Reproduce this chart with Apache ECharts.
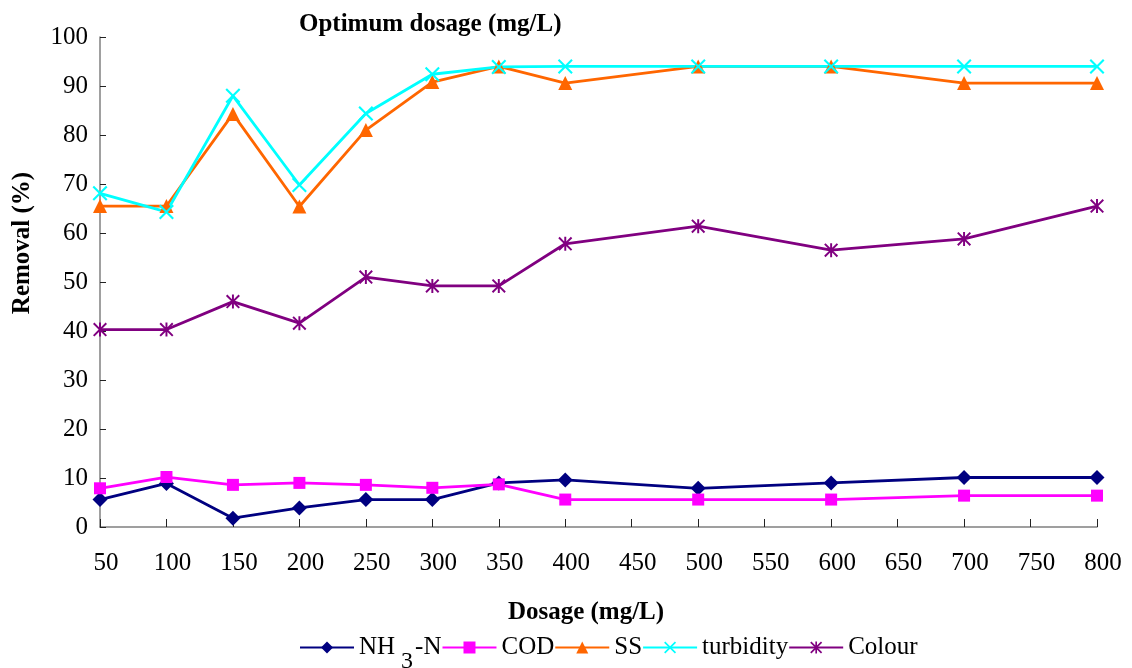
<!DOCTYPE html>
<html>
<head>
<meta charset="utf-8">
<script src="https://cdn.jsdelivr.net/npm/echarts@6/dist/echarts.min.js"></script>
<style>
html,body{margin:0;padding:0;background:#fff;}
#chart{width:1132px;height:668px;}
</style>
</head>
<body>
<div id="chart"></div>
<script>
// Dosage (mg/L)
var dosage = [50, 100, 150, 200, 250, 300, 350, 400, 500, 600, 700, 800];
// Removal (%)
var nh3n      = [5.6, 8.9, 1.8, 3.9, 5.6, 5.6, 9.0, 9.6, 7.9, 9.0, 10.1, 10.1];
var cod       = [7.9, 10.2, 8.6, 9.0, 8.6, 8.0, 8.7, 5.6, 5.6, 5.6, 6.4, 6.4];
var ss        = [65.5, 65.5, 84.3, 65.4, 81.0, 90.8, 94.0, 90.6, 94.0, 94.0, 90.6, 90.6];
var turbidity = [68.1, 64.3, 88.0, 69.8, 84.4, 92.4, 93.9, 94.0, 94.0, 94.0, 94.0, 94.0];
var colour    = [40.3, 40.3, 46.0, 41.6, 51.0, 49.2, 49.2, 57.8, 61.4, 56.5, 58.8, 65.5];
var seriesNames = ['NH3-N', 'COD', 'SS', 'turbidity', 'Colour'];
var xTicks = {min: 50, max: 800, interval: 50};
var yTicks = {min: 0, max: 100, interval: 10};

var FONT = '"Liberation Serif", "Times New Roman", serif';
var xPath = 'path://M0,1 L1,0 L5,4 L9,0 L10,1 L6,5 L10,9 L9,10 L5,6 L1,10 L0,9 L4,5 Z';
var starPath = 'path://M0,1 L1,0 L5,4 L9,0 L10,1 L6,5 L10,9 L9,10 L5,6 L1,10 L0,9 L4,5 Z M4.3,0 L5.7,0 L5.7,10 L4.3,10 Z';

function pairs(vals) { return dosage.map(function (d, i) { return [d, vals[i]]; }); }

function mk(name, vals, color, symbol, size) {
  return {
    name: name, type: 'line', data: pairs(vals),
    symbol: symbol, symbolSize: size, showSymbol: true,
    lineStyle: {color: color, width: 2.8},
    itemStyle: {color: color},
    emphasis: {disabled: true},
    animation: false
  };
}

var chart = echarts.init(document.getElementById('chart'));
chart.setOption({
  backgroundColor: '#fff',
  animation: false,
  title: {
    text: 'Optimum dosage (mg/L)',
    left: 294, top: 7,
    textStyle: {fontFamily: FONT, fontWeight: 'bold', fontSize: 25, color: '#000'}
  },
  grid: {left: 100, right: 35, top: 37, bottom: 141},
  xAxis: {
    type: 'value', min: xTicks.min, max: xTicks.max, interval: xTicks.interval,
    axisLine: {lineStyle: {color: '#808080', width: 1.5}},
    axisTick: {inside: true, length: 8, lineStyle: {color: '#222'}},
    axisLabel: {fontFamily: FONT, fontSize: 25, color: '#000', margin: 24, padding: [0, 0, 0, 12]},
    splitLine: {show: false}
  },
  yAxis: {
    type: 'value', min: yTicks.min, max: yTicks.max, interval: yTicks.interval,
    axisLine: {show: true, lineStyle: {color: '#808080', width: 1.5}},
    axisTick: {show: true, inside: true, length: 6, lineStyle: {color: '#222'}},
    axisLabel: {fontFamily: FONT, fontSize: 25, color: '#000', margin: 12},
    splitLine: {show: false}
  },
  legend: {
    left: 294, top: 630,
    itemWidth: 54, itemHeight: 15, itemGap: 0,
    data: seriesNames,
    formatter: function (n) {
      if (n === 'NH3-N') return '{a|NH}{s|3}{a|-N}';
      return '{a|' + n + '}';
    },
    textStyle: {
      fontFamily: FONT, fontSize: 25, color: '#000',
      rich: {
        a: {fontFamily: FONT, fontSize: 25, color: '#000'},
        s: {fontFamily: FONT, fontSize: 24, color: '#000', verticalAlign: 'bottom', lineHeight: 52, padding: [0, 2, 0, 6]}
      }
    }
  },
  graphic: [
    {type: 'text', left: 1046, top: -16, style: {text: '2', font: '16px ' + FONT, fill: '#000'}},
    {type: 'text', left: 1077, top: -16, style: {text: '2', font: '16px ' + FONT, fill: '#000'}},
    {type: 'text', x: 23, y: 243, rotation: Math.PI / 2,
      style: {text: 'Removal (%)', font: 'bold 25px ' + FONT, fill: '#000', align: 'center', verticalAlign: 'middle'}},
    {type: 'text', x: 586, y: 613,
      style: {text: 'Dosage (mg/L)', font: 'bold 25px ' + FONT, fill: '#000', align: 'center', verticalAlign: 'middle'}}
  ],
  series: [
    mk('NH3-N', nh3n, '#000080', 'diamond', 15),
    mk('COD', cod, '#FF00FF', 'rect', 12),
    mk('SS', ss, '#FF6600', 'triangle', 14),
    mk('turbidity', turbidity, '#00FFFF', xPath, 15),
    mk('Colour', colour, '#800080', starPath, 14)
  ]
});
</script>
</body>
</html>
